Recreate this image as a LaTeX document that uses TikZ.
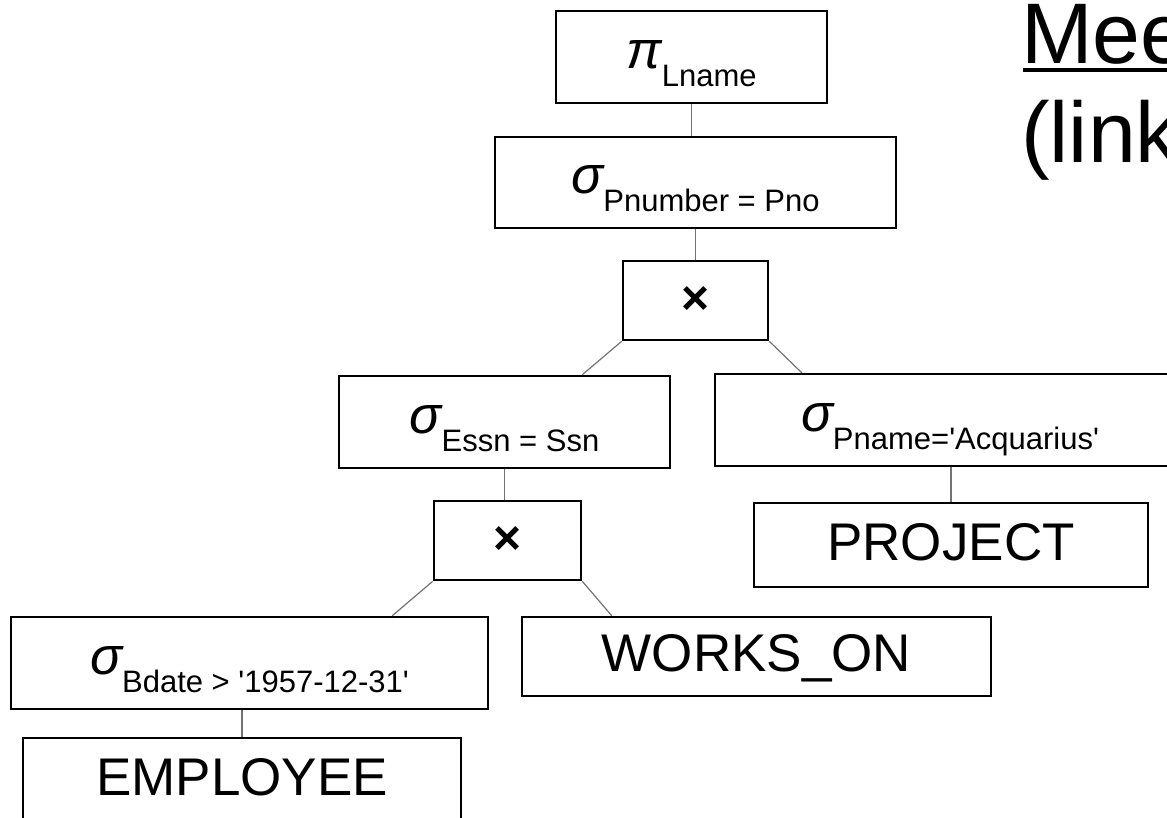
\documentclass[tikz,border=0pt]{standalone}
\usepackage{fontspec}
\setmainfont{Liberation Sans}[Ligatures=TeXOff]
\usetikzlibrary{calc}
% operator symbol with its condition set as a lowered subscript
\newcommand\relop[2]{{\fontsize{53}{60}\selectfont\itshape #1}\raisebox{-18pt}{\fontsize{31}{36}\selectfont #2}}

\begin{document}
\begin{tikzpicture}[x=1pt,y=-1pt,
  opbox/.style={draw, line width=2.5pt, inner sep=0pt, text height=22pt, text depth=0pt},
  relbox/.style={draw, line width=2.5pt, inner sep=0pt, font=\fontsize{53}{60}\selectfont, text height=30pt, text depth=0pt},
  xbox/.style={draw, line width=2.5pt, inner sep=0pt, font=\fontsize{48}{56}\selectfont\bfseries},
  link/.style={draw=black!55, line width=1.2pt},
  titletext/.style={anchor=base west, inner sep=0pt, font=\fontsize{86}{99}\selectfont}
  ]
\path[use as bounding box] (0,0) rectangle (1167,817);
\clip (0,0) rectangle (1167,817);

% query tree
\node[opbox, minimum width=271pt, minimum height=92pt] (pi) at (691.5,57) {\relop{π}{Lname}};
\node[opbox, minimum width=401pt, minimum height=91pt] (pno) at (695.5,182.5) {\relop{σ}{Pnumber = Pno}};
\node[xbox, minimum width=145pt, minimum height=79pt] (x1) at (695.5,300.5) {×};
\node[opbox, minimum width=331pt, minimum height=92pt] (essn) at (504.5,422) {\relop{σ}{Essn = Ssn}};
\node[opbox, minimum width=470pt, minimum height=92pt] (pname) at (950,420) {\relop{σ}{Pname='Acquarius'}};
\node[relbox, minimum width=394pt, minimum height=84pt] (project) at (951,545) {PROJECT};
\node[xbox, minimum width=147pt, minimum height=79pt] (x2) at (507.5,540.5) {×};
\node[opbox, minimum width=477pt, minimum height=92pt] (bdate) at (249.5,663) {\relop{σ}{Bdate > '1957-12-31'}};
\node[relbox, minimum width=469pt, minimum height=79pt] (works) at (756.5,656.5) {WORKS\_ON};
\node[relbox, minimum width=438pt, minimum height=84pt] (employee) at (242,780) {EMPLOYEE};

% edges of the tree
\draw[link] (pi.south) -- (pi.south |- pno.north);
\draw[link] (x1.north) -- (x1.north |- pno.south);
\draw[link] (x1.south west) -- ($(essn.north east)+(-89,0)$);
\draw[link] (x1.south east) -- ($(pname.north west)+(88,0)$);
\draw[link] (essn.south) -- (essn.south |- x2.north);
\draw[link] (project.north) -- (project.north |- pname.south);
\draw[link] (x2.south west) -- ($(bdate.north east)+(-97,0)$);
\draw[link] (x2.south east) -- ($(works.north west)+(91,0)$);
\draw[link] (employee.north) -- (employee.north |- bdate.south);

% heading
\node[titletext] (ttl1) at (1021,63) {Mee};
\node[titletext] (ttl2) at (1021,162) {(link};
\draw[line width=4.3pt] ([xshift=2pt,yshift=-7pt]ttl1.base west) -- ([yshift=-7pt]ttl1.base east);
\end{tikzpicture}
\end{document}
